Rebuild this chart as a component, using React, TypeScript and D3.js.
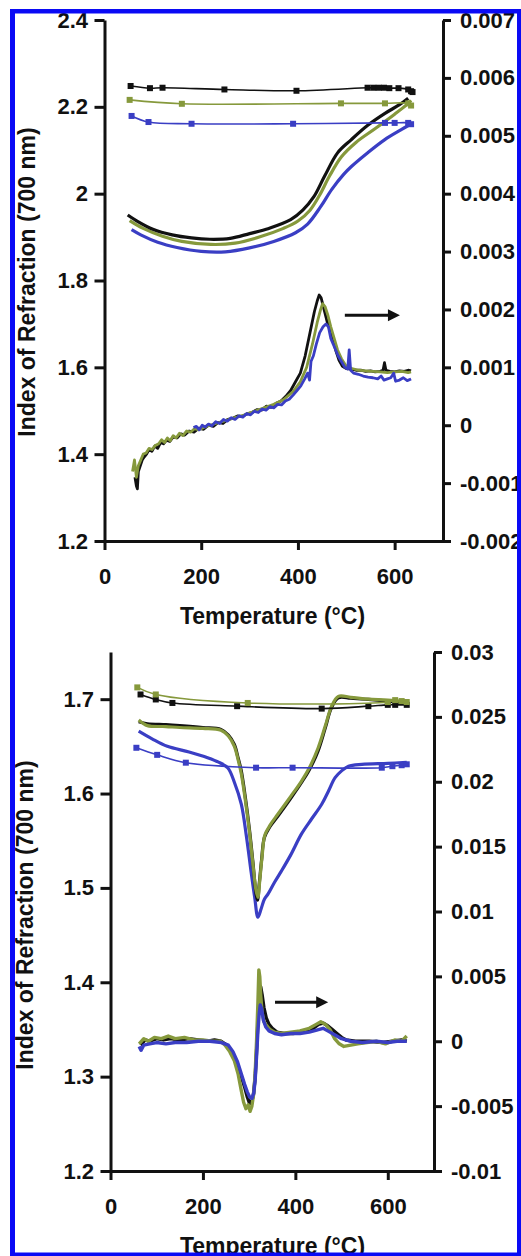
import React, { useEffect, useRef } from 'react';
import * as d3 from 'd3';

type Pt = [number, number];

// ---- top panel (index of refraction, left axis) ----
const p1MarkBlack: Pt[] = [[54, 2.248], [94, 2.243], [120, 2.244], [248, 2.240], [397, 2.237], [544, 2.244], [556, 2.244], [567, 2.244], [578, 2.244], [589, 2.243], [608, 2.243], [628, 2.240], [634, 2.236], [637, 2.234]];
const p1MarkGreen: Pt[] = [[52, 2.216], [160, 2.207], [489, 2.208], [580, 2.208], [628, 2.208], [634, 2.203]];
const p1MarkBlue: Pt[] = [[56, 2.179], [91, 2.165], [180, 2.161], [390, 2.161], [580, 2.163], [600, 2.163], [628, 2.163], [634, 2.160]];

const p1IndexBlack: Pt[] = [[48, 1.951], [70, 1.935], [100, 1.918], [140, 1.905], [180, 1.898], [218, 1.895], [260, 1.897], [300, 1.908], [340, 1.920], [385, 1.940], [410, 1.962], [433, 1.993], [455, 2.040], [482, 2.094], [510, 2.124], [545, 2.158], [580, 2.185], [610, 2.205], [628, 2.220]];
const p1IndexGreen: Pt[] = [[52, 1.938], [80, 1.920], [120, 1.902], [160, 1.890], [220, 1.883], [270, 1.886], [320, 1.900], [370, 1.920], [400, 1.937], [425, 1.962], [445, 1.997], [465, 2.040], [490, 2.085], [520, 2.118], [560, 2.150], [600, 2.183], [625, 2.205], [634, 2.215]];
const p1IndexBlue: Pt[] = [[56, 1.917], [75, 1.905], [110, 1.888], [150, 1.876], [200, 1.867], [250, 1.866], [300, 1.875], [350, 1.890], [395, 1.910], [420, 1.930], [447, 1.970], [470, 2.010], [495, 2.045], [510, 2.062], [545, 2.095], [579, 2.124], [610, 2.145], [631, 2.158], [637, 2.160]];

// ---- top panel (derivative, right axis) ----
const p1DerivBlack: Pt[] = [[63, -0.0009], [66, -0.00105], [68, -0.0011], [70, -0.0008], [74, -0.0007], [78, -0.0006], [82, -0.00055], [87, -0.0005], [92, -0.00042], [98, -0.00045], [104, -0.00036], [110, -0.0004], [116, -0.0003], [122, -0.00032], [128, -0.00026], [135, -0.00028], [142, -0.0002], [150, -0.00022], [158, -0.00015], [166, -0.00017], [175, -0.0001], [185, -0.00012], [195, -0.00005], [205, -0.00007], [215, 0.0], [225, -0.00002], [235, 0.00005], [245, 0.00003], [255, 0.0001], [265, 0.00012], [275, 0.00016], [285, 0.00015], [295, 0.0002], [305, 0.00022], [315, 0.00027], [325, 0.00026], [335, 0.00033], [345, 0.00031], [355, 0.00038], [365, 0.00042], [375, 0.0005], [385, 0.0006], [395, 0.00075], [405, 0.0009], [415, 0.0012], [425, 0.0016], [434, 0.00196], [440, 0.00215], [444, 0.00225], [448, 0.0022], [454, 0.002], [460, 0.0018], [466, 0.00165], [472, 0.0015], [478, 0.0013], [485, 0.00112], [492, 0.00102], [500, 0.00098], [510, 0.00097], [520, 0.00095], [530, 0.00095], [540, 0.00093], [550, 0.00094], [560, 0.00092], [570, 0.00093], [576, 0.00095], [579, 0.00108], [582, 0.00095], [590, 0.00093], [600, 0.00092], [610, 0.00094], [620, 0.00093], [628, 0.00095], [634, 0.00094]];
const p1DerivGreen: Pt[] = [[58, -0.0008], [62, -0.0006], [66, -0.0009], [70, -0.0007], [75, -0.0006], [80, -0.0005], [86, -0.00048], [92, -0.0004], [98, -0.00042], [105, -0.00035], [112, -0.00032], [118, -0.00025], [124, -0.0003], [130, -0.00022], [136, -0.00027], [142, -0.00018], [148, -0.00022], [155, -0.00014], [162, -0.00018], [170, -0.0001], [178, -0.00012], [186, -0.00006], [195, -0.00008], [210, -0.00002], [230, 0.00003], [250, 0.00008], [270, 0.00013], [290, 0.00018], [310, 0.00024], [330, 0.0003], [350, 0.00036], [370, 0.00044], [390, 0.00058], [405, 0.00075], [418, 0.001], [430, 0.0014], [440, 0.00178], [447, 0.002], [451, 0.0021], [456, 0.00205], [462, 0.0019], [468, 0.0017], [475, 0.0015], [482, 0.0013], [490, 0.00115], [500, 0.00102], [512, 0.00098], [525, 0.00095], [540, 0.00094], [555, 0.00093], [570, 0.00092], [585, 0.00091], [600, 0.00092], [615, 0.00093], [628, 0.00091], [634, 0.00092]];
const p1DerivBlue: Pt[] = [[184, -0.00004], [190, -0.00002], [196, -0.00008], [202, 0.0], [208, -0.00003], [215, 0.00002], [222, -0.00001], [230, 0.00006], [238, 0.00003], [246, 0.0001], [254, 0.00007], [262, 0.00013], [270, 0.0001], [278, 0.00016], [286, 0.00014], [294, 0.0002], [302, 0.00018], [310, 0.00024], [318, 0.00022], [326, 0.00028], [334, 0.00026], [342, 0.00032], [350, 0.0003], [358, 0.00036], [366, 0.00035], [374, 0.00042], [382, 0.00045], [390, 0.00052], [398, 0.0006], [406, 0.00068], [414, 0.0008], [420, 0.0009], [424, 0.00078], [427, 0.0011], [432, 0.0012], [438, 0.0014], [445, 0.0016], [452, 0.0017], [458, 0.00175], [463, 0.0017], [468, 0.0015], [473, 0.0014], [477, 0.00132], [483, 0.0012], [490, 0.0011], [497, 0.001], [503, 0.00097], [506, 0.0013], [509, 0.00095], [515, 0.0009], [525, 0.00088], [535, 0.00085], [545, 0.00083], [555, 0.00082], [565, 0.0008], [572, 0.00085], [578, 0.00078], [585, 0.0008], [592, 0.00082], [598, 0.0009], [602, 0.00076], [610, 0.00078], [618, 0.00082], [626, 0.00077], [634, 0.0008]];

// ---- bottom panel (index of refraction, left axis) ----
const p2MarkBlack: Pt[] = [[65, 1.705], [98, 1.6997], [134, 1.696], [274, 1.6926], [457, 1.690], [558, 1.6926], [600, 1.694], [616, 1.694], [641, 1.694]];
const p2MarkGreen: Pt[] = [[58, 1.7125], [98, 1.705], [297, 1.696], [600, 1.697], [616, 1.699], [630, 1.698], [641, 1.697]];
const p2MarkBlue: Pt[] = [[56, 1.6485], [101, 1.641], [163, 1.6327], [315, 1.6274], [394, 1.6274], [587, 1.6274], [610, 1.629], [630, 1.630], [641, 1.631]];

const p2IndexBlack: Pt[] = [[61, 1.676], [80, 1.674], [120, 1.673], [150, 1.672], [200, 1.670], [239, 1.668], [255, 1.662], [268, 1.652], [276, 1.638], [283, 1.624], [292, 1.595], [301, 1.5605], [308, 1.528], [315, 1.4936], [318, 1.487], [322, 1.505], [327, 1.530], [333, 1.5534], [345, 1.565], [362, 1.576], [390, 1.595], [413, 1.6115], [430, 1.625], [449, 1.645], [465, 1.670], [478, 1.6908], [493, 1.7014], [520, 1.701], [558, 1.6997], [600, 1.698], [641, 1.696]];
const p2IndexGreen: Pt[] = [[61, 1.678], [80, 1.672], [120, 1.671], [150, 1.670], [200, 1.669], [239, 1.667], [255, 1.661], [268, 1.650], [276, 1.636], [283, 1.621], [292, 1.592], [301, 1.558], [308, 1.526], [315, 1.497], [319, 1.490], [323, 1.508], [328, 1.533], [334, 1.556], [346, 1.567], [362, 1.578], [390, 1.597], [413, 1.613], [430, 1.627], [449, 1.648], [465, 1.672], [478, 1.692], [493, 1.703], [520, 1.702], [558, 1.700], [600, 1.699], [641, 1.697]];
const p2IndexBlue: Pt[] = [[61, 1.6662], [90, 1.658], [123, 1.650], [170, 1.644], [210, 1.638], [235, 1.633], [254, 1.627], [268, 1.612], [283, 1.5887], [294, 1.555], [304, 1.518], [312, 1.490], [319, 1.4689], [326, 1.478], [333, 1.488], [341, 1.4936], [355, 1.506], [370, 1.518], [390, 1.535], [413, 1.557], [435, 1.573], [457, 1.5887], [472, 1.603], [486, 1.6168], [500, 1.624], [515, 1.629], [544, 1.631], [600, 1.632], [641, 1.633]];

// ---- bottom panel (derivative, right axis) ----
const p2DerivBlack: Pt[] = [[65, -0.0003], [75, 0.0001], [85, 0.0], [100, 0.0002], [115, 0.0001], [130, 0.0002], [150, 0.0001], [170, 0.0002], [190, 0.0001], [210, 0.0], [225, 0.0001], [239, 0.0], [248, -0.0002], [258, -0.0006], [268, -0.0012], [276, -0.0019], [283, -0.0027], [290, -0.0035], [296, -0.0043], [301, -0.0048], [305, -0.0047], [309, -0.0042], [313, -0.0028], [316, -0.0008], [319, 0.0015], [322, 0.0035], [325, 0.0042], [328, 0.0036], [332, 0.0026], [337, 0.0018], [343, 0.0013], [350, 0.001], [360, 0.0007], [375, 0.0006], [395, 0.0006], [415, 0.0007], [435, 0.0009], [450, 0.0013], [460, 0.0014], [470, 0.0012], [480, 0.0009], [490, 0.0006], [500, 0.0003], [510, 0.0001], [530, 0.0], [560, 0.0], [590, -0.0001], [610, 0.0], [630, 0.0001], [641, 0.0]];
const p2DerivGreen: Pt[] = [[62, -0.0002], [72, 0.0002], [82, 0.0], [95, 0.0003], [110, 0.0002], [125, 0.0004], [140, 0.0002], [160, 0.0003], [180, 0.0001], [200, 0.0001], [220, 0.0], [238, 0.0], [248, -0.0003], [258, -0.0008], [268, -0.0015], [276, -0.0025], [283, -0.0038], [288, -0.0047], [293, -0.0052], [298, -0.0049], [302, -0.0054], [306, -0.005], [310, -0.004], [313, -0.0025], [316, 0.0], [319, 0.003], [321, 0.0055], [323, 0.005], [325, 0.0036], [328, 0.0022], [332, 0.0015], [338, 0.0012], [345, 0.0009], [355, 0.0007], [370, 0.0006], [390, 0.0007], [410, 0.0008], [430, 0.001], [445, 0.0013], [455, 0.0015], [465, 0.0013], [475, 0.0009], [485, 0.0002], [495, -0.0002], [505, -0.0004], [520, -0.0003], [535, -0.0002], [555, -0.0001], [575, 0.0], [595, -0.0002], [615, 0.0001], [630, 0.0], [641, 0.0004]];
const p2DerivBlue: Pt[] = [[62, -0.0004], [66, -0.0007], [72, -0.0003], [85, -0.0002], [100, -0.0001], [120, -0.0002], [140, -0.0001], [165, -0.0001], [190, 0.0], [215, 0.0], [240, -0.0001], [255, -0.0003], [265, -0.0008], [275, -0.0016], [283, -0.0025], [290, -0.0033], [296, -0.0039], [301, -0.0043], [306, -0.0044], [310, -0.004], [313, -0.003], [316, -0.0012], [319, 0.0008], [322, 0.0022], [324, 0.0028], [327, 0.0025], [331, 0.0016], [336, 0.0011], [343, 0.0008], [355, 0.0006], [370, 0.0005], [390, 0.0006], [410, 0.0006], [430, 0.0007], [450, 0.0009], [460, 0.001], [470, 0.0008], [485, 0.0005], [500, 0.0002], [520, 0.0], [545, -0.0001], [575, 0.0], [600, -0.0001], [620, 0.0], [641, 0.0]];

// tick values
const xTicks = [0, 200, 400, 600];
const p1LeftTicks = [1.2, 1.4, 1.6, 1.8, 2.0, 2.2, 2.4];
const p1RightTicks = [-0.002, -0.001, 0, 0.001, 0.002, 0.003, 0.004, 0.005, 0.006, 0.007];
const p2LeftTicks = [1.2, 1.3, 1.4, 1.5, 1.6, 1.7];
const p2RightTicks = [-0.01, -0.005, 0, 0.005, 0.01, 0.015, 0.02, 0.025, 0.03];

const BLACK = '#111111';
const GREEN = '#86993c';
const BLUE = '#3a3ec4';
const FONT = '"Liberation Sans", Arial, sans-serif';

const App = () => {
    const ref = useRef<SVGSVGElement>(null);

    useEffect(() => {
        const svg = d3.select(ref.current);
        svg.selectAll('*').remove();

        svg.append('defs').append('clipPath').attr('id', 'frameClip')
            .append('rect').attr('x', 15).attr('y', 13).attr('width', 502).attr('height', 1240);

        const root = svg.append('g').attr('clip-path', 'url(#frameClip)');

        const drawPanel = (cfg: any) => {
            const x = d3.scaleLinear().domain([0, 700]).range([cfg.left, cfg.right]);
            const yL = d3.scaleLinear().domain(cfg.leftDomain).range([cfg.bottom, cfg.top]);
            const yR = d3.scaleLinear().domain(cfg.rightDomain).range([cfg.bottom, cfg.top]);
            const g = root.append('g');

            const smoothL = d3.line<Pt>().x(d => x(d[0])).y(d => yL(d[1])).curve(d3.curveCatmullRom);
            const rawR = d3.line<Pt>().x(d => x(d[0])).y(d => yR(d[1]));

            // continuous index curves
            cfg.index.forEach(([data, color]: [Pt[], string]) => {
                g.append('path').attr('d', smoothL(data)).attr('fill', 'none')
                    .attr('stroke', color).attr('stroke-width', 3.2).attr('stroke-linejoin', 'round');
            });
            // marker series
            cfg.marks.forEach(([data, color]: [Pt[], string]) => {
                g.append('path').attr('d', smoothL(data)).attr('fill', 'none')
                    .attr('stroke', color).attr('stroke-width', 1.6);
                g.selectAll(null).data(data).enter().append('rect')
                    .attr('x', d => x(d[0]) - 3).attr('y', d => yL(d[1]) - 3)
                    .attr('width', 6).attr('height', 6).attr('fill', color);
            });
            // derivative curves
            cfg.deriv.forEach(([data, color]: [Pt[], string]) => {
                g.append('path').attr('d', rawR(data)).attr('fill', 'none')
                    .attr('stroke', color).attr('stroke-width', cfg.derivWidth).attr('stroke-linejoin', 'round');
            });

            // arrow
            const ax0 = x(cfg.arrow[0]), ax1 = x(cfg.arrow[1]), ay = yR(cfg.arrow[2]);
            g.append('line').attr('x1', ax0).attr('x2', ax1 - 8).attr('y1', ay).attr('y2', ay)
                .attr('stroke', BLACK).attr('stroke-width', 3);
            g.append('path').attr('d', `M${ax1},${ay} L${ax1 - 12},${ay - 6} L${ax1 - 12},${ay + 6} Z`).attr('fill', BLACK);

            // axes
            const styleAxis = (sel: any) => {
                sel.selectAll('path,line').attr('stroke', BLACK).attr('stroke-width', 3);
                sel.selectAll('text').attr('font-family', FONT).attr('font-size', 22)
                    .attr('font-weight', 'bold').attr('fill', BLACK);
            };
            const fmt = (d: any) => String(+(+d).toFixed(3));

            g.append('g').attr('transform', `translate(${cfg.left},0)`)
                .call(d3.axisLeft(yL).tickValues(cfg.leftTicks).tickSize(10).tickSizeOuter(0).tickPadding(6.5).tickFormat(fmt))
                .call(styleAxis);
            g.append('g').attr('transform', `translate(${cfg.right},0)`)
                .call(d3.axisRight(yR).tickValues(cfg.rightTicks).tickSize(8).tickSizeOuter(0).tickPadding(9).tickFormat(fmt))
                .call(styleAxis);
            g.append('g').attr('transform', `translate(0,${cfg.bottom})`)
                .call(d3.axisBottom(x).tickValues(xTicks).tickSize(9).tickSizeOuter(0).tickPadding(18).tickFormat(fmt))
                .call(styleAxis);
            g.selectAll('.domain').attr('fill', 'none');

            g.append('text').attr('x', cfg.xTitle[0]).attr('y', cfg.xTitle[1])
                .attr('text-anchor', 'middle').attr('font-family', FONT).attr('font-size', 23)
                .attr('font-weight', 'bold').attr('fill', BLACK).text('Temperature (°C)');
            g.append('text').attr('transform', `translate(${cfg.yTitle[0]},${cfg.yTitle[1]}) rotate(-90)`)
                .attr('text-anchor', 'middle').attr('font-family', FONT).attr('font-size', 23)
                .attr('font-weight', 'bold').attr('fill', BLACK).text('Index of Refraction (700 nm)');
        };

        drawPanel({
            left: 104.5, right: 443, top: 20, bottom: 541,
            leftDomain: [1.2, 2.4], rightDomain: [-0.002, 0.007],
            leftTicks: p1LeftTicks, rightTicks: p1RightTicks,
            index: [[p1IndexBlue, BLUE], [p1IndexGreen, GREEN], [p1IndexBlack, BLACK]],
            marks: [[p1MarkBlue, BLUE], [p1MarkGreen, GREEN], [p1MarkBlack, BLACK]],
            deriv: [[p1DerivBlack, BLACK], [p1DerivGreen, GREEN], [p1DerivBlue, BLUE]],
            derivWidth: 2.8,
            arrow: [497, 611, 0.0019],
            xTitle: [272.5, 624], yTitle: [35, 282]
        });
        drawPanel({
            left: 110.5, right: 434, top: 652, bottom: 1171,
            leftDomain: [1.2, 1.75], rightDomain: [-0.01, 0.03],
            leftTicks: p2LeftTicks, rightTicks: p2RightTicks,
            index: [[p2IndexBlue, BLUE], [p2IndexBlack, BLACK], [p2IndexGreen, GREEN]],
            marks: [[p2MarkBlue, BLUE], [p2MarkBlack, BLACK], [p2MarkGreen, GREEN]],
            deriv: [[p2DerivBlack, BLACK], [p2DerivGreen, GREEN], [p2DerivBlue, BLUE]],
            derivWidth: 3.4,
            arrow: [356, 471, 0.003],
            xTitle: [272.5, 1254], yTitle: [33, 915]
        });

        // blue frame
        const frame = svg.append('g').attr('fill', '#0a0af5');
        frame.append('rect').attr('x', 10).attr('y', 9).attr('width', 511).attr('height', 4.5);
        frame.append('rect').attr('x', 10).attr('y', 9).attr('width', 5).attr('height', 1247);
        frame.append('rect').attr('x', 517).attr('y', 9).attr('width', 4).attr('height', 1247);
        frame.append('rect').attr('x', 10).attr('y', 1252.5).attr('width', 511).attr('height', 3.5);
    }, []);

    return (
        <div style={{ position: 'absolute', left: 0, top: 0 }}>
            <svg ref={ref} width={521} height={1256} style={{ display: 'block', background: '#fff' }} />
        </div>
    );
};

export default App;
